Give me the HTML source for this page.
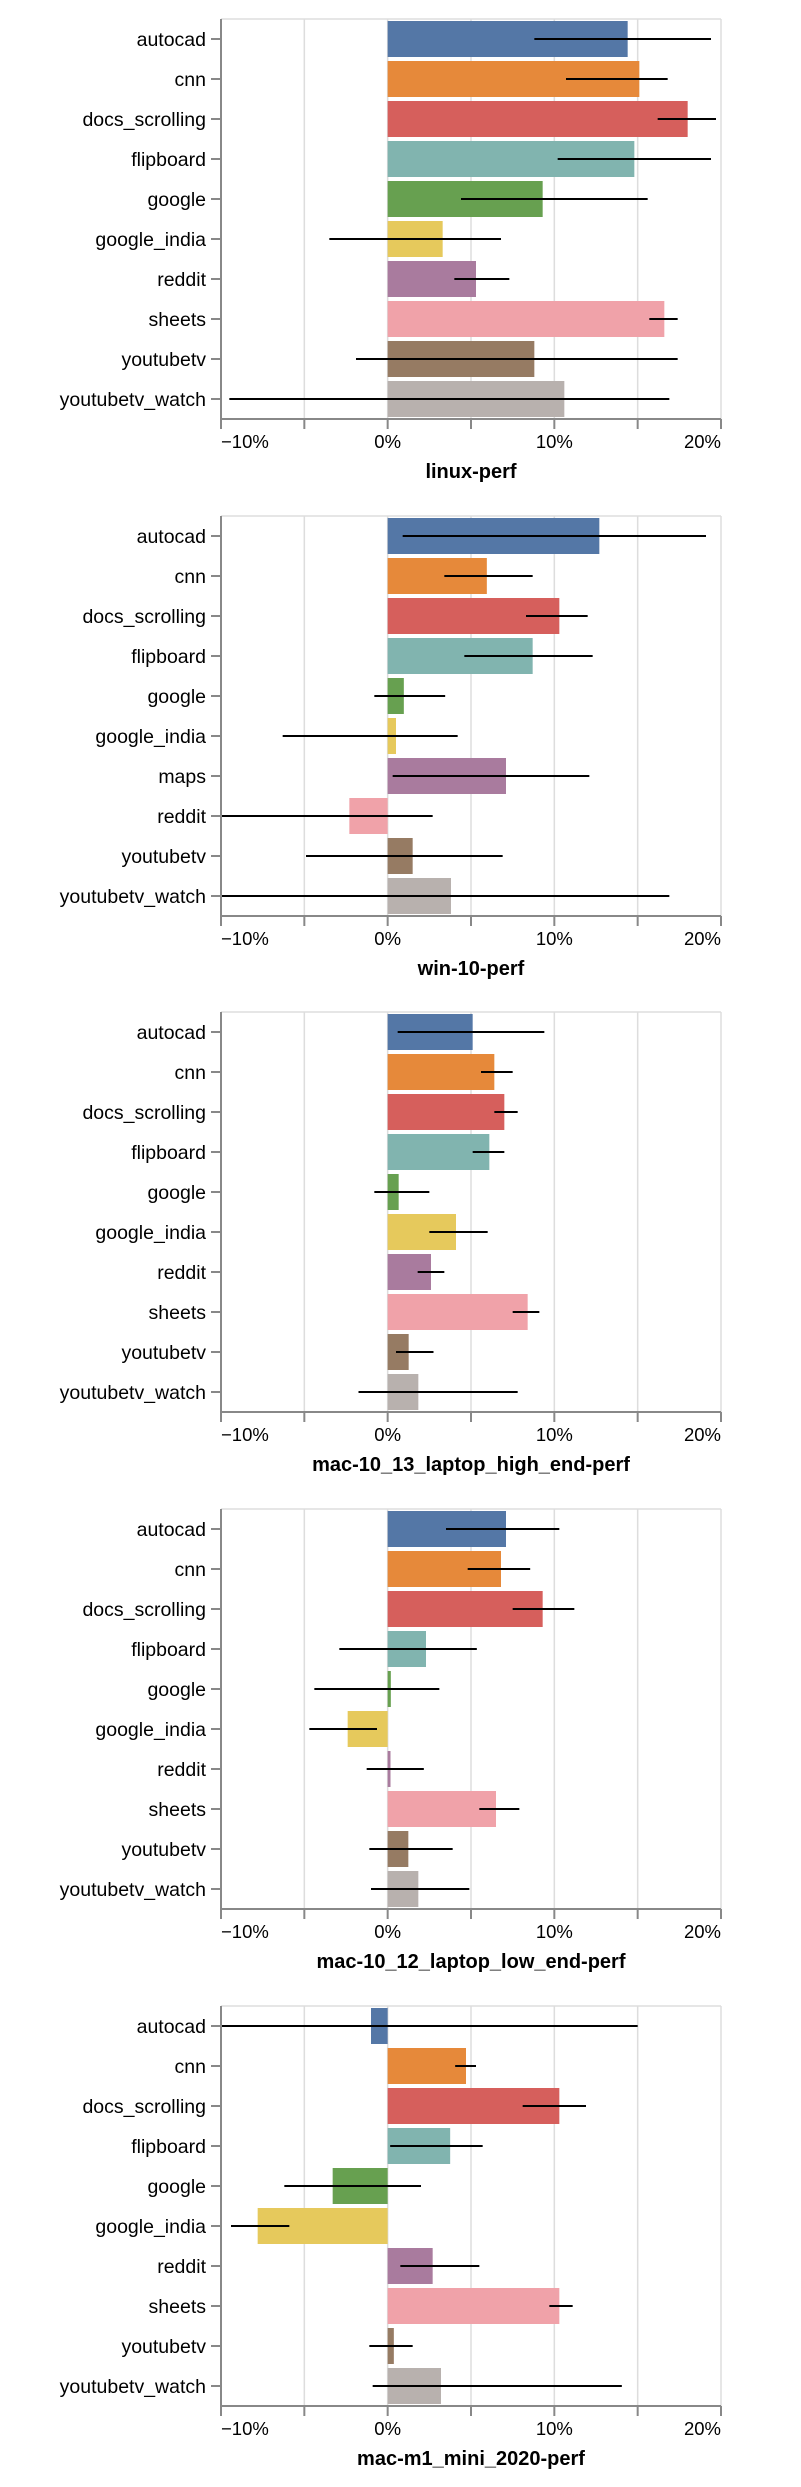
<!DOCTYPE html>
<html><head><meta charset="utf-8"><style>
html,body{margin:0;padding:0;background:#fff;}
svg{display:block;font-family:"Liberation Sans",sans-serif;}
</style></head><body>
<svg id="chart" width="801" height="2487" viewBox="0 0 801 2487" xmlns="http://www.w3.org/2000/svg"></svg>
<script>
const titles = ["linux-perf","win-10-perf","mac-10_13_laptop_high_end-perf","mac-10_12_laptop_low_end-perf","mac-m1_mini_2020-perf"];
const cats1 = ["autocad","cnn","docs_scrolling","flipboard","google","google_india","reddit","sheets","youtubetv","youtubetv_watch"];
const cats2 = ["autocad","cnn","docs_scrolling","flipboard","google","google_india","maps","reddit","youtubetv","youtubetv_watch"];
const values1 = [14.4,15.1,18.0,14.8,9.3,3.3,5.3,16.6,8.8,10.6];
const lo1 = [8.8,10.7,16.2,10.2,4.4,-3.5,4.0,15.7,-1.9,-9.5];
const hi1 = [19.4,16.8,19.7,19.4,15.6,6.8,7.3,17.4,17.4,16.9];
const values2 = [12.7,5.95,10.3,8.7,0.97,0.5,7.1,-2.3,1.5,3.8];
const lo2 = [0.9,3.4,8.3,4.6,-0.8,-6.3,0.3,-10,-4.9,-10];
const hi2 = [19.1,8.7,12.0,12.3,3.45,4.2,12.1,2.7,6.9,16.9];
const values3 = [5.1,6.4,7.0,6.1,0.66,4.1,2.6,8.4,1.26,1.84];
const lo3 = [0.6,5.6,6.4,5.1,-0.8,2.5,1.8,7.5,0.5,-1.75];
const hi3 = [9.4,7.5,7.8,7.0,2.5,6.0,3.4,9.1,2.75,7.8];
const values4 = [7.1,6.8,9.3,2.3,0.19,-2.4,0.17,6.5,1.24,1.84];
const lo4 = [3.5,4.8,7.5,-2.9,-4.4,-4.7,-1.26,5.5,-1.1,-1.0];
const hi4 = [10.3,8.55,11.2,5.35,3.1,-0.64,2.17,7.9,3.9,4.9];
const values5 = [-1.0,4.7,10.3,3.75,-3.3,-7.8,2.7,10.3,0.37,3.2];
const lo5 = [-10,4.05,8.1,0.15,-6.2,-9.4,0.76,9.7,-1.1,-0.9];
const hi5 = [15.0,5.3,11.9,5.7,2.0,-5.9,5.5,11.1,1.5,14.05];
const tickVals = [-10,-5,0,5,10,15,20];
const tickLabels = ["−10%","","0%","","10%","","20%"];

const charts = [
  {cats:cats1,v:values1,lo:lo1,hi:hi1},
  {cats:cats2,v:values2,lo:lo2,hi:hi2},
  {cats:cats1,v:values3,lo:lo3,hi:hi3},
  {cats:cats1,v:values4,lo:lo4,hi:hi4},
  {cats:cats1,v:values5,lo:lo5,hi:hi5}
];
const colors = ["#5477a6","#e6893a","#d65f5c","#81b4af","#67a050","#e6c95c","#a97b9e","#f0a2a9","#967b63","#b8b1ae"];
const X0=221, X1=721, DMIN=-10, DMAX=20, PH=400, STEP=40, BH=36;
const x = v => X0 + (v-DMIN)/(DMAX-DMIN)*(X1-X0);
const svg = document.getElementById('chart');
const NS="http://www.w3.org/2000/svg";
function mk(tag, attrs, parent){const e=document.createElementNS(NS,tag);for(const k in attrs)e.setAttribute(k,attrs[k]);(parent||svg).appendChild(e);return e;}

charts.forEach((c,ci)=>{
  const top = 19 + Math.round(ci*496.7);
  const g = mk('g',{});
  
  
  const y = i => top + i*STEP;
  // gridlines
  tickVals.forEach(t=>{
    const gl = mk('line',{x1:x(t),x2:x(t),y1:top,y2:top+PH,stroke:'#ddd','stroke-width':1.5},g);
    
    
  });
  mk('line',{x1:X0,x2:X1,y1:top,y2:top,stroke:'#ddd','stroke-width':1.5},g);
  // bars
  c.cats.forEach((cat,i)=>{
    const v=c.v[i];
    const b = mk('rect',{x:Math.min(x(0),x(v)),y:y(i)+(STEP-BH)/2,width:Math.abs(x(v)-x(0)),height:BH,fill:colors[i]},g);
    
    
  });
  // error bars
  c.cats.forEach((cat,i)=>{
    const cy=y(i)+STEP/2;
    const e = mk('line',{x1:x(c.lo[i]),x2:x(c.hi[i]),y1:cy,y2:cy,stroke:'#000','stroke-width':2},g);
    
    
  });
  // y axis
  mk('line',{x1:X0,x2:X0,y1:top,y2:top+PH,stroke:'#888','stroke-width':2},g);
  c.cats.forEach((cat,i)=>{
    const cy=y(i)+STEP/2;
    mk('line',{x1:X0-10,x2:X0,y1:cy,y2:cy,stroke:'#888','stroke-width':2},g);
    const t = mk('text',{x:X0-15,y:cy+7,'text-anchor':'end','font-size':19.5,fill:'#000'},g);
    t.textContent=cat;
    
    
  });
  // x axis
  const ab = top+PH;
  mk('line',{x1:X0,x2:X1,y1:ab,y2:ab,stroke:'#888','stroke-width':2},g);
  tickVals.forEach((t,k)=>{
    mk('line',{x1:x(t),x2:x(t),y1:ab,y2:ab+10,stroke:'#888','stroke-width':2},g);
    if(tickLabels[k]){
      const anchor = k===0?'start':(k===tickVals.length-1?'end':'middle');
      const tl = mk('text',{x:x(t),y:ab+29,'text-anchor':anchor,'font-size':18.5,fill:'#000'},g);
      tl.textContent=tickLabels[k];
      
      
    }
  });
  const tt = mk('text',{x:(X0+X1)/2,y:ab+59,'text-anchor':'middle','font-size':20,'font-weight':'bold',fill:'#000'},g);
  tt.textContent=titles[ci];
  
  
});
</script>
</body></html>
